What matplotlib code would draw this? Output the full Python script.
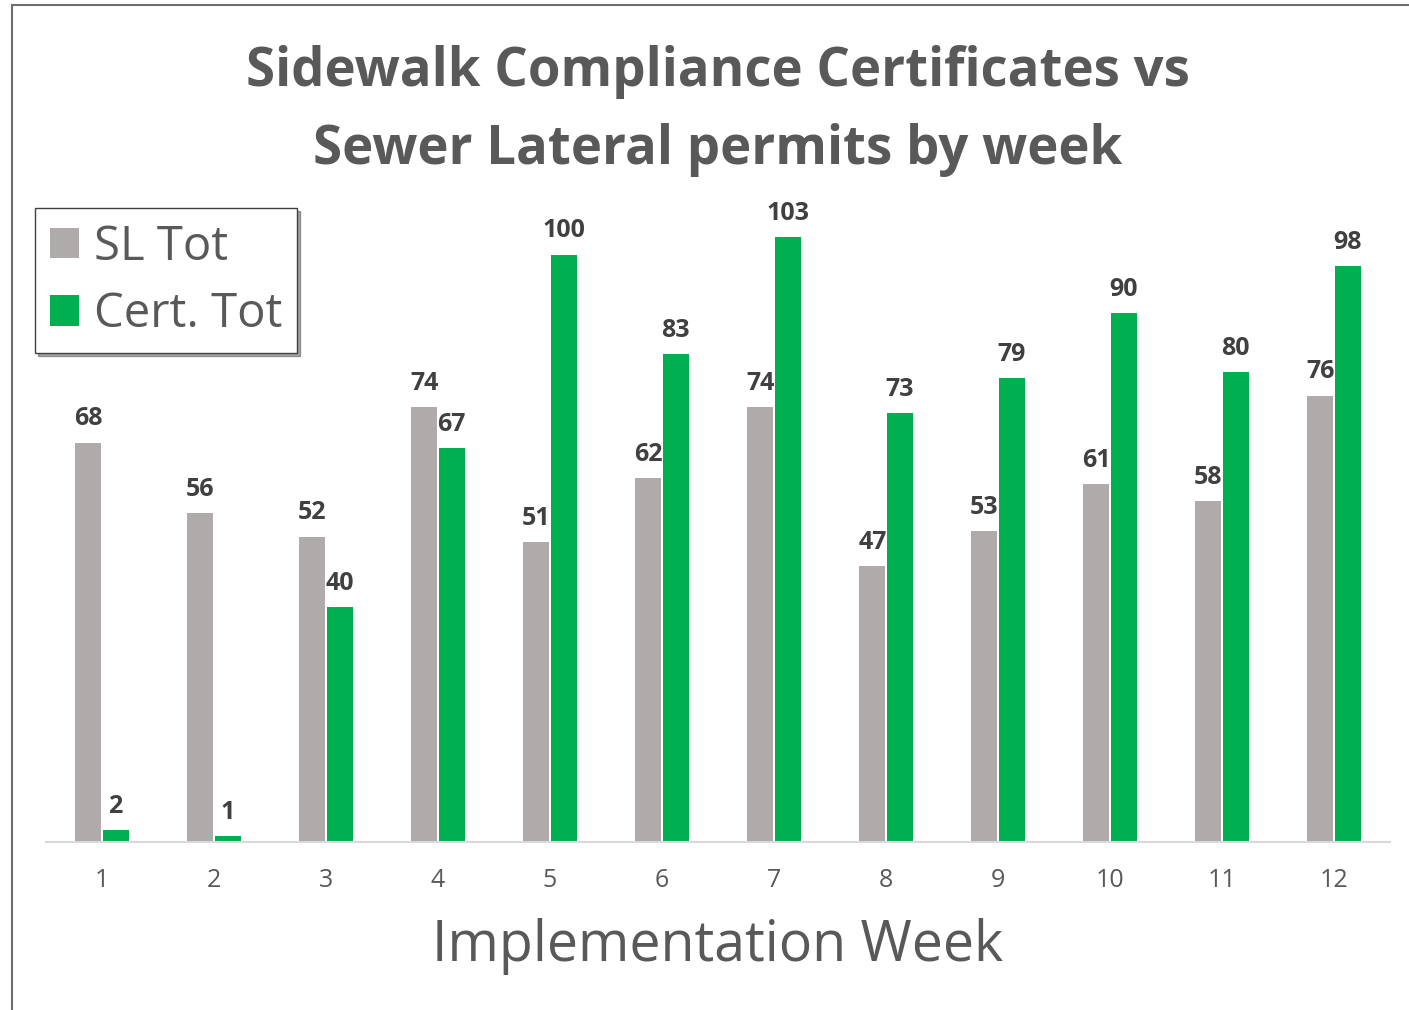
import matplotlib.pyplot as plt
import matplotlib.patches as mpatches
import numpy as np

# data
weeks = [1, 2, 3, 4, 5, 6, 7, 8, 9, 10, 11, 12]
sl_tot = [68, 56, 52, 74, 51, 62, 74, 47, 53, 61, 58, 76]
cert_tot = [2, 1, 40, 67, 100, 83, 103, 73, 79, 90, 80, 98]

gray = '#AFABAB'
green = '#00B050'
text_col = '#595959'

plt.rcParams['font.family'] = ['Open Sans', 'DejaVu Sans']

W, H = 1409, 1010
fig = plt.figure(figsize=(W / 100, H / 100), dpi=100)

# outer chart frame (left/top edges visible, rest runs off the image)
fig.patches.append(mpatches.Rectangle((12 / W, -0.1), 1.2, (H - 5) / H + 0.1,
                                      transform=fig.transFigure, fill=False,
                                      edgecolor='#6e6e6e', linewidth=1.5))

# axes: x from 46 to 1390 px, baseline at 842 px
ax_left, ax_right = 46, 1390
ax_bottom, ax_top = 842, 200
ax = fig.add_axes([ax_left / W, (H - ax_bottom) / H,
                   (ax_right - ax_left) / W, (ax_bottom - ax_top) / H])

px_per_unit = 5.874
ax.set_xlim(0.5, 12.5)
ax.set_ylim(0, (ax_bottom - ax_top) / px_per_unit)

x = np.array(weeks)
bw = 0.232
gap = 0.005
b1 = ax.bar(x - bw / 2 - gap, sl_tot, width=bw, color=gray, label='SL Tot')
b2 = ax.bar(x + bw / 2 + gap, cert_tot, width=bw, color=green, label='Cert. Tot')

for bars, vals in [(b1, sl_tot), (b2, cert_tot)]:
    for rect, v in zip(bars, vals):
        ax.annotate(str(v), (rect.get_x() + rect.get_width() / 2, v),
                    xytext=(0, 8), textcoords='offset points',
                    ha='center', va='bottom', fontsize=18, fontweight='bold',
                    color='#404040')

for s in ['top', 'right', 'left']:
    ax.spines[s].set_visible(False)
ax.spines['bottom'].set_color('#d9d9d9')
ax.spines['bottom'].set_linewidth(1.5)
ax.set_yticks([])
ax.set_xticks(weeks)
ax.set_xticklabels([str(w) for w in weeks])
ax.tick_params(axis='x', length=0, pad=19, labelsize=18, labelcolor=text_col)

ax.set_xlabel('Implementation Week', fontsize=40, color=text_col, labelpad=18)

fig.text(718 / W, 1 - 111 / H, 'Sidewalk Compliance Certificates vs\nSewer Lateral permits by week',
         ha='center', va='center', fontsize=38, fontweight='bold', color=text_col,
         linespacing=1.6)

leg = fig.legend(handles=[b1, b2], loc='upper left',
                 bbox_to_anchor=(35 / W, 1 - 208 / H),
                 fontsize=34, frameon=True, fancybox=False, shadow=True,
                 handlelength=0.62, handleheight=0.62, handletextpad=0.3,
                 borderpad=0.32, labelspacing=0.42, labelcolor=text_col,
                 borderaxespad=0)
leg.get_frame().set_edgecolor('#404040')
leg.get_frame().set_linewidth(1.0)

fig.savefig('out.png', dpi=100)
